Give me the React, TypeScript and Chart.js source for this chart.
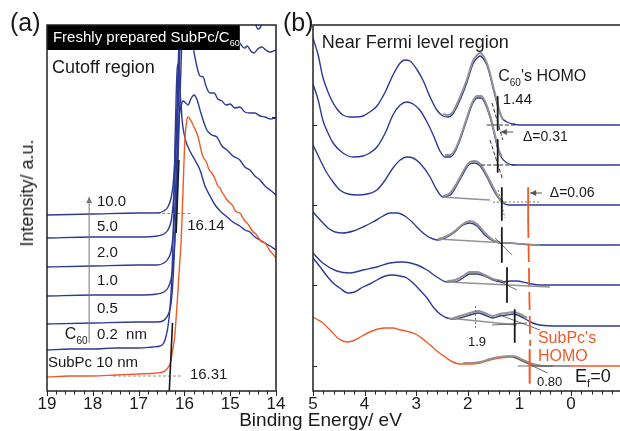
import React, { useEffect, useRef } from "react";
import { Chart, registerables } from "chart.js";
Chart.register(...registerables);

const FONT = '"Liberation Sans", Arial, Helvetica, sans-serif';
const BLUE = "#2d3a95";
const ORANGE = "#f05a28";
const GRAY = "#939393";
const INK = "#1a1a1a";

type Pt = [number, number];

// ---------- tick labels ----------
const ticksA = [19, 18, 17, 16, 15, 14];
const ticksB = [5, 4, 3, 2, 1, 0];

// ---------- Panel (a): cutoff region (x = binding energy eV, y = intensity a.u.) ----------
const subpc10: Pt[] = [[19.0,14],[18.5,15],[18.0,15],[17.5,16],[17.0,17],[16.6,18],[16.47,19],[16.4,21],[16.35,24],[16.31,27],[16.26,40],[16.21,55],[16.17,80],[16.14,101],[16.1,130],[16.07,151],[16.03,201],[15.99,251],[15.95,270],[15.92,274],[15.88,272],[15.83,268],[15.77,262],[15.7,254],[15.66,246],[15.62,238],[15.59,234],[15.55,231],[15.51,228],[15.47,222],[15.4,218],[15.33,212],[15.27,205],[15.22,203],[15.18,199],[15.11,194],[15.07,191],[15.0,188],[14.94,185],[14.9,181],[14.85,179],[14.79,178],[14.72,173],[14.68,170],[14.63,168],[14.57,164],[14.5,159],[14.46,158],[14.41,155],[14.35,151],[14.31,149],[14.24,148],[14.17,143],[14.13,140],[14.07,137],[14.0,133]];
const c60_02: Pt[] = [[19.0,41],[18.5,42],[18.0,42],[17.5,43],[17.0,43],[16.7,44],[16.53,45],[16.45,48],[16.4,55],[16.36,64],[16.32,80],[16.28,108],[16.24,165],[16.21,240],[16.18,295],[16.16,320],[16.14,327],[16.12,322],[16.1,302],[16.07,285],[16.05,271],[16.01,258],[15.97,250],[15.88,240],[15.77,231],[15.66,221],[15.55,205],[15.44,195],[15.33,186],[15.22,180],[15.07,174],[14.94,169],[14.79,165],[14.68,161],[14.57,159],[14.46,154],[14.35,151],[14.24,148],[14.13,145],[14.0,141]];
const c60_05: Pt[] = [[19.0,67],[18.0,68],[17.0,69],[16.6,69],[16.47,70],[16.4,73],[16.34,78],[16.29,88],[16.25,110],[16.21,150],[16.16,220],[16.12,270],[16.07,285],[16.03,290],[15.97,288],[15.92,286],[15.86,292],[15.79,296],[15.73,292],[15.64,278],[15.51,261],[15.4,256],[15.29,254],[15.18,245],[15.07,241],[14.94,235],[14.79,231],[14.68,224],[14.57,221],[14.46,215],[14.35,211],[14.24,205],[14.13,201],[14.0,196]];
const c60_10: Pt[] = [[19.0,95],[18.0,96],[17.0,96],[16.6,97],[16.45,99],[16.36,103],[16.29,112],[16.25,125],[16.21,150],[16.16,200],[16.12,260],[16.07,330],[16.03,390],[15.95,420],[15.88,375],[15.81,345],[15.73,325],[15.66,315],[15.59,314],[15.53,305],[15.44,298],[15.35,298],[15.27,292],[15.18,290],[15.09,286],[15.0,287],[14.9,283],[14.79,284],[14.68,279],[14.57,278],[14.46,278],[14.35,275],[14.24,274],[14.13,272],[14.0,273]];
const c60_20: Pt[] = [[19.0,124],[18.0,125],[17.0,126],[16.6,126],[16.45,128],[16.36,132],[16.29,140],[16.25,155],[16.21,180],[16.16,240],[16.12,310],[16.07,380],[16.0,430],[15.6,420],[15.3,385],[15.1,370],[14.9,357],[14.79,348],[14.68,343],[14.63,345],[14.55,340],[14.48,338],[14.4,342],[14.31,344],[14.22,341],[14.13,339],[14.0,341]];
const c60_50: Pt[] = [[19.0,153],[18.0,154],[17.0,154],[16.6,155],[16.45,157],[16.36,161],[16.29,170],[16.25,185],[16.21,210],[16.16,270],[16.12,340],[16.07,400],[16.0,440],[15.0,430],[14.6,385],[14.5,372],[14.44,366],[14.4,362],[14.35,363],[14.3,368],[14.2,375],[14.0,372]];
const c60_100: Pt[] = [[19.0,176],[18.0,177],[17.0,178],[16.6,178],[16.45,180],[16.36,184],[16.29,193],[16.25,205],[16.21,228],[16.16,285],[16.12,350],[16.08,420],[16.0,470],[14.0,470]];
const cutoffSubPc: Pt[] = [[16.33,0],[16.26,68]];
const cutoffC60: Pt[] = [[16.18,158],[16.12,231]];
const guideC60: Pt[] = [[17.03,177.5],[15.83,177.5]];
const guideSubPc: Pt[] = [[17.56,15],[16.03,15]];
const thicknessArrow: Pt[] = [[18.08,48],[18.08,194]];

// ---------- Panel (b): near Fermi level ----------
const b1: Pt[] = [[5.0,353],[4.9,336],[4.81,314],[4.71,299],[4.61,288],[4.52,281],[4.42,276],[4.28,274],[4.15,274],[4.03,275],[3.9,279],[3.76,285],[3.6,299],[3.45,316],[3.31,328],[3.22,331],[3.12,330],[2.98,321],[2.87,311],[2.73,294],[2.6,281],[2.48,275],[2.38,274],[2.29,277],[2.15,291],[2.02,308],[1.9,327],[1.82,333],[1.76,335],[1.71,333],[1.63,326],[1.57,316],[1.51,303],[1.43,287],[1.38,278],[1.32,272],[1.24,269],[1.12,267],[0.99,266],[0.6,266],[0.02,266],[-0.95,266]];
const b2: Pt[] = [[5.0,307],[4.9,291],[4.81,271],[4.71,258],[4.61,248],[4.42,238],[4.22,234],[4.03,235],[3.9,238],[3.76,244],[3.6,258],[3.45,276],[3.31,286],[3.18,289],[3.06,287],[2.93,281],[2.79,269],[2.67,256],[2.54,240],[2.44,234],[2.34,234],[2.25,239],[2.15,251],[2.02,271],[1.9,288],[1.82,293],[1.74,293],[1.67,288],[1.57,274],[1.49,258],[1.41,241],[1.34,233],[1.24,228],[1.09,226],[0.6,226],[-0.95,226]];
const b3: Pt[] = [[5.0,246],[4.86,231],[4.73,218],[4.61,209],[4.48,201],[4.32,197],[4.15,196],[3.95,197],[3.76,201],[3.6,211],[3.45,223],[3.31,231],[3.18,234],[3.06,233],[2.93,228],[2.73,214],[2.6,201],[2.48,194],[2.34,196],[2.21,206],[2.05,221],[1.96,227],[1.86,228],[1.76,225],[1.63,214],[1.47,198],[1.34,189],[1.18,186],[0.79,186],[-0.95,186]];
const b4: Pt[] = [[5.0,179],[4.86,171],[4.71,163],[4.57,159],[4.42,158],[4.22,160],[4.03,164],[3.84,169],[3.64,175],[3.51,178],[3.37,178],[3.22,175],[3.06,168],[2.93,161],[2.79,155],[2.67,152],[2.58,151],[2.44,153],[2.25,159],[2.09,166],[1.96,168],[1.82,165],[1.67,156],[1.51,150],[1.38,148],[1.18,148],[0.99,147],[0.6,146],[-0.95,146]];
const b5: Pt[] = [[5.0,138],[4.81,128],[4.54,120],[4.28,118],[4.03,121],[3.76,124],[3.51,128],[3.26,129],[2.98,126],[2.79,121],[2.6,114],[2.4,109],[2.25,109],[2.09,113],[1.96,117],[1.82,117],[1.67,115],[1.51,111],[1.32,109],[1.18,110],[1.05,110],[0.85,108],[0.6,106],[-0.95,106]];
const b6: Pt[] = [[5.0,133],[4.86,124],[4.73,115],[4.61,108],[4.48,103],[4.32,98],[4.19,99],[4.03,104],[3.9,107],[3.76,111],[3.6,115],[3.47,116],[3.31,115],[3.18,113],[3.06,108],[2.93,101],[2.79,93],[2.67,84],[2.54,77],[2.4,73],[2.29,72],[2.15,73],[1.96,76],[1.8,78],[1.67,76],[1.51,73],[1.38,75],[1.24,76],[1.12,77],[0.99,75],[0.85,71],[0.74,68],[0.6,66],[0.21,65],[-0.95,65]];
const bSubPc: Pt[] = [[5.0,74],[4.9,71],[4.81,68],[4.67,61],[4.52,53],[4.42,50],[4.32,49],[4.19,51],[4.05,55],[3.9,59],[3.74,62],[3.6,63],[3.45,63],[3.31,61],[3.12,59],[2.98,56],[2.87,52],[2.73,46],[2.6,40],[2.44,34],[2.29,29],[2.15,27],[1.96,27],[1.76,28],[1.57,31],[1.38,33],[1.18,34],[1.05,33],[0.93,30],[0.79,27],[0.66,25],[0.5,25],[-0.95,25]];

const fit1: Pt[] = [[2.48,277],[2.38,276],[2.29,279],[2.15,294],[2.02,311],[1.9,330],[1.82,336],[1.76,338],[1.71,336],[1.63,328],[1.57,318],[1.51,305],[1.43,289],[1.38,279],[1.32,271]];
const fit2: Pt[] = [[2.44,236],[2.34,236],[2.25,241],[2.15,253],[2.02,273],[1.9,290],[1.82,295],[1.74,295],[1.67,290],[1.57,276],[1.49,260],[1.41,243],[1.34,234]];
const fit3: Pt[] = [[2.48,195],[2.34,198],[2.21,208],[2.05,223],[1.96,229],[1.86,230],[1.76,227],[1.63,216],[1.47,200],[1.38,192],[1.28,188]];
const base3: Pt[] = [[2.48,194],[2.2,193],[1.9,192],[1.57,191]];
const fit4: Pt[] = [[2.58,152],[2.44,154],[2.25,160],[2.09,167],[1.96,170],[1.82,167],[1.67,158],[1.51,151],[1.38,149]];
const base4: Pt[] = [[2.58,152],[0.6,146]];
const fit5: Pt[] = [[2.4,110],[2.25,111],[2.09,115],[1.96,119],[1.82,119],[1.67,116],[1.51,112],[1.32,110]];
const base5: Pt[] = [[2.4,109],[0.41,104]];
const fit6: Pt[] = [[2.29,73],[2.15,75],[1.96,78],[1.8,80],[1.67,78],[1.51,75],[1.38,77],[1.24,78],[1.12,79],[0.99,77],[0.85,73]];
const base6: Pt[] = [[2.38,73],[1.05,66]];
const fit7: Pt[] = [[2.09,28],[1.96,28],[1.76,29],[1.57,32],[1.38,34],[1.18,35],[1.05,34],[0.93,31],[0.79,28],[0.66,26],[0.5,25],[0.02,25]];

const dashLines: Pt[][] = [
  [[1.63,266],[1.05,266]], [[1.53,288],[1.32,251]],
  [[1.74,226],[1.09,226]], [[1.57,251],[1.32,211]],
];
const dotLines: Pt[][] = [
  [[1.51,189],[0.6,189]], [[1.41,201],[1.28,173]],
  [[1.85,63],[1.85,85]],
];
const thinLines: Pt[][] = [
  [[1.47,153],[1.14,136]], [[1.43,111],[1.05,101]],
  [[1.53,66],[0.85,68]], [[1.38,76],[0.6,61]],
  [[1.03,25],[0.35,25]], [[1.12,34],[0.45,18]],
];
const onsetMarks: Pt[][] = [
  [[1.42,294],[1.42,261]], [[1.42,251],[1.42,219]],
  [[1.34,203],[1.34,171]], [[1.34,163],[1.34,129]],
  [[1.24,123],[1.24,89]], [[1.09,81],[1.09,49]],
];
const subpcHomoTop: Pt[] = [[0.83,203],[0.83,171]];
const subpcHomoDash: Pt[] = [[0.83,171],[0.79,45]];
const subpcHomoBottom: Pt[] = [[0.8,41],[0.8,8]];
const arrowsB: Pt[][] = [[[1.12,259],[1.36,259]], [[0.56,198],[0.79,198]]];

// ---------- helpers ----------
const xy = (a: Pt[]) => a.map(([x, y]) => ({ x, y }));
function ds(data: Pt[], color: string, width: number, order: number, smooth = true, dash: number[] = []) {
  return {
    data: xy(data), showLine: true, borderColor: color, backgroundColor: color, borderWidth: width,
    pointRadius: 0, pointHoverRadius: 0, tension: smooth ? 0.4 : 0,
    cubicInterpolationMode: smooth ? "monotone" : "default", borderDash: dash, order, fill: false,
    borderCapStyle: "butt", borderJoinStyle: "round",
  };
}

type Label = { t: string; x: number; y: number; size: number; color?: string; align?: CanvasTextAlign; sub?: string; after?: string };

function drawLabel(ctx: CanvasRenderingContext2D, chart: any, L: Label) {
  const px = chart.scales.x.getPixelForValue(L.x);
  const py = chart.scales.y.getPixelForValue(L.y);
  ctx.font = `${L.size}px ${FONT}`;
  ctx.fillStyle = L.color || INK;
  ctx.textBaseline = "middle";
  ctx.textAlign = L.align || "left";
  ctx.fillText(L.t, px, py);
  if (L.sub) {
    const w = ctx.measureText(L.t).width;
    const ss = Math.round(L.size * 0.6);
    ctx.font = `${ss}px ${FONT}`;
    ctx.textAlign = "left";
    ctx.fillText(L.sub, px + w, py + L.size * 0.38);
    if (L.after) {
      const w2 = ctx.measureText(L.sub).width;
      ctx.font = `${L.size}px ${FONT}`;
      ctx.fillText(L.after, px + w + w2, py);
    }
  }
}

function drawArrow(ctx: CanvasRenderingContext2D, chart: any, seg: Pt[], color: string) {
  const sx = chart.scales.x, sy = chart.scales.y;
  const x1 = sx.getPixelForValue(seg[0][0]), y1 = sy.getPixelForValue(seg[0][1]);
  const x2 = sx.getPixelForValue(seg[1][0]), y2 = sy.getPixelForValue(seg[1][1]);
  const a = Math.atan2(y2 - y1, x2 - x1);
  ctx.strokeStyle = color; ctx.fillStyle = color; ctx.lineWidth = 1;
  ctx.beginPath(); ctx.moveTo(x1, y1); ctx.lineTo(x2, y2); ctx.stroke();
  const h = 6, w = 3;
  ctx.beginPath();
  ctx.moveTo(x2, y2);
  ctx.lineTo(x2 - h * Math.cos(a) + w * Math.sin(a), y2 - h * Math.sin(a) - w * Math.cos(a));
  ctx.lineTo(x2 - h * Math.cos(a) - w * Math.sin(a), y2 - h * Math.sin(a) + w * Math.cos(a));
  ctx.closePath(); ctx.fill();
}

function decor(opts: { labels: Label[]; arrows: { seg: Pt[]; color: string }[]; yTicks: number[]; yTickSide: "left" | "right"; box?: { x0: number; x1: number; y0: number; y1: number; label: Label } }) {
  return {
    id: "decor",
    afterDatasetsDraw(chart: any) {
      const ctx: CanvasRenderingContext2D = chart.ctx;
      const { left, right, top, bottom } = chart.chartArea;
      const sx = chart.scales.x, sy = chart.scales.y;
      ctx.save();
      if (opts.box) {
        const b = opts.box;
        const xa = sx.getPixelForValue(b.x0), xb = sx.getPixelForValue(b.x1);
        const ya = sy.getPixelForValue(b.y0), yb = sy.getPixelForValue(b.y1);
        ctx.fillStyle = "#000";
        ctx.fillRect(Math.min(xa, xb), Math.min(ya, yb), Math.abs(xb - xa), Math.abs(yb - ya));
        drawLabel(ctx, chart, b.label);
      }
      // frame
      ctx.strokeStyle = "#222"; ctx.lineWidth = 1.5;
      ctx.strokeRect(left, top, right - left, bottom - top);
      // x ticks (outward), minor every 0.2
      ctx.lineWidth = 1;
      const lo = Math.min(sx.min, sx.max), hi = Math.max(sx.min, sx.max);
      for (let k = Math.ceil(lo * 5 - 1e-6); k <= Math.floor(hi * 5 + 1e-6); k++) {
        const p = Math.round(sx.getPixelForValue(k / 5)) + 0.5;
        const len = k % 5 === 0 ? 5 : 3.5;
        ctx.beginPath(); ctx.moveTo(p, bottom); ctx.lineTo(p, bottom + len); ctx.stroke();
      }
      // y ticks inward
      for (const v of opts.yTicks) {
        const p = Math.round(sy.getPixelForValue(v)) + 0.5;
        ctx.beginPath();
        if (opts.yTickSide === "left") { ctx.moveTo(left, p); ctx.lineTo(left + 4, p); }
        else { ctx.moveTo(right, p); ctx.lineTo(right - 4, p); }
        ctx.stroke();
      }
      ctx.restore();
    },
    afterDraw(chart: any) {
      const ctx: CanvasRenderingContext2D = chart.ctx;
      ctx.save();
      for (const a of opts.arrows) drawArrow(ctx, chart, a.seg, a.color);
      for (const L of opts.labels) drawLabel(ctx, chart, L);
      ctx.restore();
    },
  };
}

function baseOptions(pad: { left: number; right: number }, xmin: number, xmax: number, ticks: number[]) {
  return {
    responsive: false, animation: false, devicePixelRatio: 1, events: [],
    layout: { padding: { left: pad.left, right: pad.right, top: 25, bottom: 0 } },
    plugins: { legend: { display: false }, tooltip: { enabled: false }, title: { display: false } },
    scales: {
      x: {
        type: "linear", reverse: true, min: xmin, max: xmax,
        grid: { display: false, drawTicks: false }, border: { display: false },
        ticks: { font: { family: FONT, size: 17 }, color: INK, padding: 3, maxRotation: 0, autoSkip: false },
        afterBuildTicks: (s: any) => { s.ticks = ticks.map((v) => ({ value: v })); },
        afterFit: (s: any) => { s.height = 40; },
      },
      y: { type: "linear", min: 0, max: 366, display: false },
    },
  };
}

function configA(): any {
  const datasets = [
    ds(cutoffSubPc, INK, 1.6, 1, false),
    ds(cutoffC60, INK, 1.6, 1, false),
    ds(guideC60, "#777", 0.8, 2, false, [3, 2]),
    ds(guideSubPc, "#777", 0.8, 2, false, [3, 2]),
    ds(subpc10, ORANGE, 1.4, 5),
    ds(c60_02, BLUE, 1.4, 6),
    ds(c60_05, BLUE, 1.4, 6),
    ds(c60_10, BLUE, 1.4, 6),
    ds(c60_20, BLUE, 1.4, 6),
    ds(c60_50, BLUE, 1.4, 6),
    ds(c60_100, BLUE, 1.4, 6),
  ];
  const labels: Label[] = [
    { t: "Cutoff region", x: 18.89, y: 323, size: 18 },
    { t: "10.0", x: 17.91, y: 189, size: 15 },
    { t: "5.0", x: 17.91, y: 164, size: 15 },
    { t: "2.0", x: 17.91, y: 138, size: 15 },
    { t: "1.0", x: 17.91, y: 110, size: 15 },
    { t: "0.5", x: 17.91, y: 82, size: 15 },
    { t: "0.2  nm", x: 17.91, y: 56, size: 15 },
    { t: "C", x: 18.61, y: 56, size: 16, sub: "60" },
    { t: "SubPc 10 nm", x: 18.98, y: 28, size: 15 },
    { t: "16.14", x: 15.94, y: 165, size: 15 },
    { t: "16.31", x: 15.88, y: 16, size: 15 },
  ];
  return {
    type: "scatter",
    data: { datasets },
    options: baseOptions({ left: 47, right: 24 }, 14, 19, ticksA),
    plugins: [decor({
      labels, arrows: [{ seg: thicknessArrow, color: "#777" }], yTicks: [274], yTickSide: "right",
      box: { x0: 19, x1: 14.79, y0: 341, y1: 366, label: { t: "Freshly prepared SubPc/C", x: 18.87, y: 353, size: 15, color: "#fff", sub: "60" } },
    })],
  };
}

function configB(): any {
  const datasets: any[] = [];
  onsetMarks.forEach((m) => datasets.push(ds(m, INK, 1.8, 1, false)));
  datasets.push(ds(subpcHomoTop, ORANGE, 1.8, 1, false));
  datasets.push(ds(subpcHomoDash, ORANGE, 1.8, 1, false, [18, 6]));
  datasets.push(ds(subpcHomoBottom, ORANGE, 2, 1, false));
  dashLines.forEach((l) => datasets.push(ds(l, INK, 0.9, 2, false, [4, 2])));
  dotLines.forEach((l) => datasets.push(ds(l, "#555", 0.8, 2, false, [2, 2])));
  thinLines.forEach((l) => datasets.push(ds(l, "#444", 0.8, 2, false)));
  [fit1, fit2, fit3, fit4, fit5, fit6, fit7].forEach((f) => datasets.push(ds(f, GRAY, 2, 3)));
  [base3, base4, base5, base6].forEach((f) => datasets.push(ds(f, GRAY, 1.6, 3, false)));
  datasets.push(ds(bSubPc, ORANGE, 1.4, 5));
  [b1, b2, b3, b4, b5, b6].forEach((c) => datasets.push(ds(c, BLUE, 1.4, 6)));
  const labels: Label[] = [
    { t: "Near Fermi level region", x: 4.83, y: 348, size: 18 },
    { t: "C", x: 1.41, y: 314, size: 16, sub: "60", after: "'s HOMO" },
    { t: "1.44", x: 1.32, y: 291, size: 15 },
    { t: "\u0394=0.31", x: 0.93, y: 254, size: 14 },
    { t: "\u0394=0.06", x: 0.41, y: 198, size: 14 },
    { t: "1.9", x: 1.82, y: 49, size: 13, align: "center" },
    { t: "SubPc's", x: 0.64, y: 52, size: 16, color: ORANGE },
    { t: "HOMO", x: 0.64, y: 34, size: 16, color: ORANGE },
    { t: "0.80", x: 0.66, y: 9, size: 13 },
    { t: "E", x: -0.08, y: 14, size: 18, sub: "f", after: "=0" },
  ];
  return {
    type: "scatter",
    data: { datasets },
    options: baseOptions({ left: 13, right: 9 }, -0.97, 5, ticksB),
    plugins: [decor({
      labels, arrows: arrowsB.map((seg) => ({ seg, color: "#555" })), yTicks: [266, 186, 106, 25], yTickSide: "left",
    })],
  };
}

function Panel({ make, left, width }: { make: () => any; left: number; width: number }) {
  const ref = useRef<HTMLCanvasElement>(null);
  useEffect(() => {
    const chart = new Chart(ref.current as HTMLCanvasElement, make());
    return () => chart.destroy();
  }, []);
  return (
    <canvas ref={ref} width={width} height={431}
      style={{ position: "absolute", left, top: 0, width, height: 431, display: "block" }} />
  );
}

export default function App() {
  return (
    <div style={{ position: "absolute", left: 0, top: 0, width: 620, height: 431, overflow: "hidden", background: "#fff", fontFamily: FONT, color: INK }}>
      <Panel make={configA} left={0} width={300} />
      <Panel make={configB} left={300} width={330} />
      <div style={{ position: "absolute", left: 10, top: 10, fontSize: 25, lineHeight: "25px", whiteSpace: "nowrap" }}>(a)</div>
      <div style={{ position: "absolute", left: 283, top: 10, fontSize: 25, lineHeight: "25px", whiteSpace: "nowrap" }}>(b)</div>
      <div style={{ position: "absolute", left: 26.7, top: 192.5, transform: "translate(-50%,-50%) rotate(-90deg)", fontSize: 18, lineHeight: "18px", whiteSpace: "nowrap" }}>Intensity/ a.u.</div>
      <div style={{ position: "absolute", left: 320.5, top: 409.5, transform: "translateX(-50%)", fontSize: 19, lineHeight: "19px", whiteSpace: "nowrap" }}>Binding Energy/ eV</div>
    </div>
  );
}
